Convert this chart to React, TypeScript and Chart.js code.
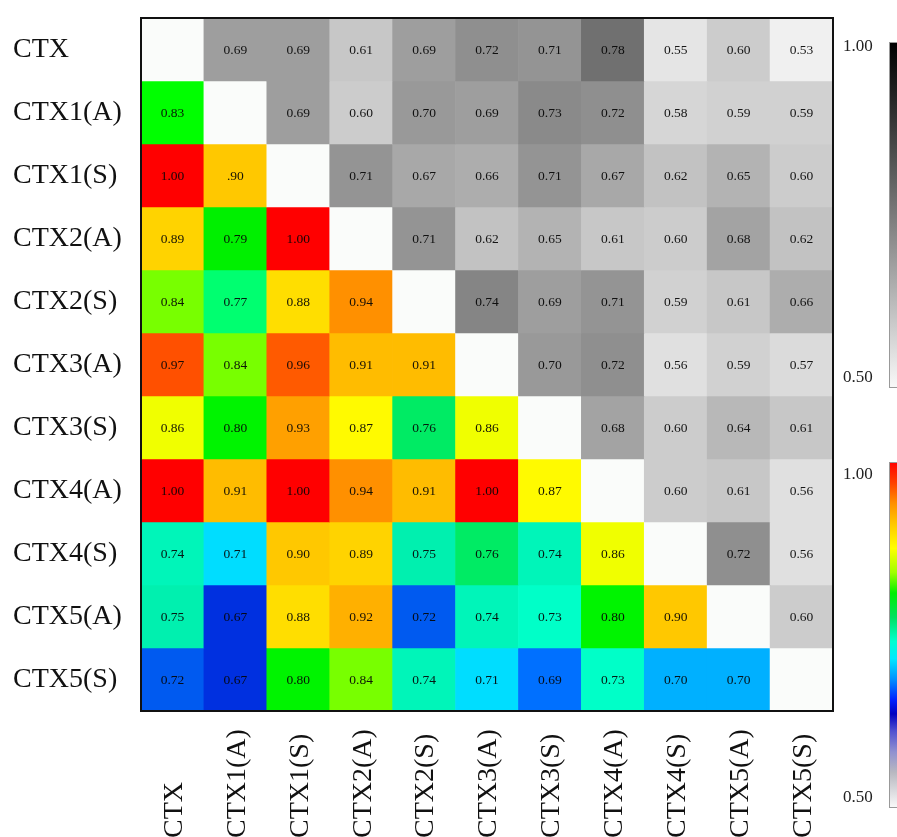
import React, { useEffect, useRef } from "react";
import { Chart, registerables } from "chart.js";

Chart.register(...registerables);

const rowLabels = ["CTX", "CTX1(A)", "CTX1(S)", "CTX2(A)", "CTX2(S)", "CTX3(A)", "CTX3(S)", "CTX4(A)", "CTX4(S)", "CTX5(A)", "CTX5(S)"];
const colLabels = ["CTX", "CTX1(A)", "CTX1(S)", "CTX2(A)", "CTX2(S)", "CTX3(A)", "CTX3(S)", "CTX4(A)", "CTX4(S)", "CTX5(A)", "CTX5(S)"];

const rowCTX = ["", "0.69", "0.69", "0.61", "0.69", "0.72", "0.71", "0.78", "0.55", "0.60", "0.53"];
const rowCTX1A = ["0.83", "", "0.69", "0.60", "0.70", "0.69", "0.73", "0.72", "0.58", "0.59", "0.59"];
const rowCTX1S = ["1.00", ".90", "", "0.71", "0.67", "0.66", "0.71", "0.67", "0.62", "0.65", "0.60"];
const rowCTX2A = ["0.89", "0.79", "1.00", "", "0.71", "0.62", "0.65", "0.61", "0.60", "0.68", "0.62"];
const rowCTX2S = ["0.84", "0.77", "0.88", "0.94", "", "0.74", "0.69", "0.71", "0.59", "0.61", "0.66"];
const rowCTX3A = ["0.97", "0.84", "0.96", "0.91", "0.91", "", "0.70", "0.72", "0.56", "0.59", "0.57"];
const rowCTX3S = ["0.86", "0.80", "0.93", "0.87", "0.76", "0.86", "", "0.68", "0.60", "0.64", "0.61"];
const rowCTX4A = ["1.00", "0.91", "1.00", "0.94", "0.91", "1.00", "0.87", "", "0.60", "0.61", "0.56"];
const rowCTX4S = ["0.74", "0.71", "0.90", "0.89", "0.75", "0.76", "0.74", "0.86", "", "0.72", "0.56"];
const rowCTX5A = ["0.75", "0.67", "0.88", "0.92", "0.72", "0.74", "0.73", "0.80", "0.90", "", "0.60"];
const rowCTX5S = ["0.72", "0.67", "0.80", "0.84", "0.74", "0.71", "0.69", "0.73", "0.70", "0.70", ""];

const matrix = [rowCTX, rowCTX1A, rowCTX1S, rowCTX2A, rowCTX2S, rowCTX3A, rowCTX3S, rowCTX4A, rowCTX4S, rowCTX5A, rowCTX5S];

const colorbarTicks = ["1.00", "0.50"];

// colormap anchors used by the lower triangle (style)
const JET: [number, number[]][] = [
  [0.67, [0, 48, 224]],
  [0.69, [0, 112, 255]],
  [0.70, [0, 176, 255]],
  [0.71, [0, 221, 255]],
  [0.715, [0, 221, 255]],
  [0.72, [0, 90, 240]],
  [0.725, [0, 255, 200]],
  [0.73, [0, 255, 200]],
  [0.74, [0, 245, 185]],
  [0.75, [0, 240, 175]],
  [0.76, [0, 235, 100]],
  [0.77, [0, 255, 112]],
  [0.79, [0, 240, 0]],
  [0.83, [0, 255, 0]],
  [0.84, [120, 255, 0]],
  [0.86, [240, 255, 0]],
  [0.87, [255, 250, 0]],
  [0.88, [255, 222, 0]],
  [0.90, [255, 200, 0]],
  [0.92, [255, 176, 0]],
  [0.94, [255, 144, 0]],
  [0.96, [255, 90, 0]],
  [0.97, [255, 80, 0]],
  [1.0, [255, 0, 0]],
];

function jet(v: number): string {
  if (v <= JET[0][0]) return `rgb(${JET[0][1].join(",")})`;
  for (let i = 1; i < JET.length; i++) {
    const [v1, c1] = JET[i];
    const [v0, c0] = JET[i - 1];
    if (v <= v1 + 1e-9) {
      const t = Math.min(1, (v - v0) / (v1 - v0));
      const c = c0.map((a, k) => Math.round(a + (c1[k] - a) * t));
      return `rgb(${c.join(",")})`;
    }
  }
  return `rgb(${JET[JET.length - 1][1].join(",")})`;
}

function gray(v: number): string {
  const g = Math.max(0, Math.min(255, Math.round(255 - 510 * (v - 0.5))));
  return `rgb(${g},${g},${g})`;
}

function cellColor(r: number, c: number, s: string): string {
  if (r === c || s === "") return "#fafcfa";
  const v = parseFloat(s);
  return c > r ? gray(v) : jet(v);
}

const SERIF = '"Liberation Serif", "DejaVu Serif", serif';

const overlayPlugin = {
  id: "overlay",
  afterDatasetsDraw(chart: any) {
    const ctx = chart.ctx;
    ctx.save();
    ctx.font = `13.5px ${SERIF}`;
    ctx.fillStyle = "rgba(5,5,5,0.92)";
    ctx.textAlign = "center";
    ctx.textBaseline = "middle";
    matrix.forEach((row, r) => {
      const meta = chart.getDatasetMeta(r);
      meta.data.forEach((el: any, c: number) => {
        const s = row[c];
        if (!s) return;
        ctx.fillText(s, el.x, (el.y + el.base) / 2 + 1);
      });
    });
    ctx.restore();
  },
  afterDraw(chart: any) {
    const ctx = chart.ctx;
    const a = chart.chartArea;
    const xs = chart.scales.x;
    ctx.save();
    // frame
    ctx.strokeStyle = "#111";
    ctx.lineWidth = 2;
    ctx.strokeRect(a.left, a.top, a.right - a.left, a.bottom - a.top);

    // x labels, rotated, starting at the bottom
    ctx.font = `28px ${SERIF}`;
    ctx.fillStyle = "#111";
    ctx.textAlign = "left";
    ctx.textBaseline = "middle";
    colLabels.forEach((lab, i) => {
      const x = xs.getPixelForValue(i);
      ctx.save();
      ctx.translate(x + 2, chart.height + 1);
      ctx.rotate(-Math.PI / 2);
      ctx.fillText(lab, 0, 0);
      ctx.restore();
    });

    // colorbars
    const bx = a.right + 56;
    const bw = 40;
    const g1t = a.top + 24, g1b = a.top + 369;
    const g2t = a.top + 444, g2b = a.top + 789;

    const gg = ctx.createLinearGradient(0, g1t, 0, g1b);
    gg.addColorStop(0, "#000000");
    gg.addColorStop(0.15, "#222222");
    gg.addColorStop(0.5, "#7a7a7a");
    gg.addColorStop(1, "#f8f8f8");
    ctx.fillStyle = gg;
    ctx.fillRect(bx, g1t, bw, g1b - g1t);

    const jg = ctx.createLinearGradient(0, g2t, 0, g2b);
    const stops: [number, string][] = [
      [0.0, "#ff0000"], [0.06, "#ff4000"], [0.12, "#ff9000"], [0.18, "#ffc800"],
      [0.25, "#ffff00"], [0.32, "#a0ff00"], [0.38, "#00ee00"], [0.45, "#00e060"],
      [0.52, "#00ffd0"], [0.57, "#00e8ff"], [0.63, "#0090ff"], [0.69, "#0020ff"],
      [0.73, "#0000c0"], [0.78, "#5050d0"], [0.84, "#9090d0"], [0.9, "#b8b8c0"],
      [1.0, "#f8f8f8"],
    ];
    stops.forEach(([o, c]) => jg.addColorStop(o, c));
    ctx.fillStyle = jg;
    ctx.fillRect(bx, g2t, bw, g2b - g2t);

    ctx.strokeStyle = "#999";
    ctx.lineWidth = 1;
    ctx.strokeRect(bx + 0.5, g1t + 0.5, bw, g1b - g1t);
    ctx.strokeRect(bx + 0.5, g2t + 0.5, bw, g2b - g2t);

    ctx.font = `17px ${SERIF}`;
    ctx.fillStyle = "#222";
    ctx.textAlign = "left";
    ctx.textBaseline = "middle";
    const lx = a.right + 10;
    ctx.fillText(colorbarTicks[0], lx, g1t + 5);
    ctx.fillText(colorbarTicks[1], lx, g1b - 9);
    ctx.fillText(colorbarTicks[0], lx, g2t + 13);
    ctx.fillText(colorbarTicks[1], lx, g2b - 9);
    ctx.restore();
  },
};

export default function App() {
  const ref = useRef<HTMLCanvasElement | null>(null);
  useEffect(() => {
    if (!ref.current) return;
    const chart = new Chart(ref.current, {
      type: "bar",
      data: {
        labels: colLabels,
        datasets: matrix.map((row, r) => ({
          label: rowLabels[r],
          data: row.map(() => [r, r + 1]),
          backgroundColor: row.map((s, c) => cellColor(r, c, s)),
          borderWidth: 0,
          grouped: false,
          barPercentage: 1,
          categoryPercentage: 1,
          xAxisID: "x",
          yAxisID: "y",
        })),
      } as any,
      options: {
        animation: false,
        responsive: true,
        maintainAspectRatio: false,
        layout: { padding: { left: 13, top: 18, right: 64, bottom: 126 } },
        plugins: { legend: { display: false }, tooltip: { enabled: false } },
        scales: {
          x: { type: "category", display: false, offset: true },
          y: { type: "linear", min: 0, max: 11, reverse: true, display: false },
          yl: {
            type: "category",
            labels: rowLabels,
            position: "left",
            offset: true,
            grid: { display: false, drawTicks: false },
            border: { display: false },
            ticks: {
              crossAlign: "far",
              autoSkip: false,
              padding: 0,
              color: "#111",
              font: { family: SERIF, size: 28 },
            },
            afterFit: (s: any) => {
              s.width = 128;
            },
          },
        },
      } as any,
      plugins: [overlayPlugin],
    });
    return () => chart.destroy();
  }, []);
  return (
    <div style={{ position: "absolute", left: 0, top: 0, width: 897, height: 837, background: "#fff" }}>
      <canvas ref={ref} />
    </div>
  );
}
